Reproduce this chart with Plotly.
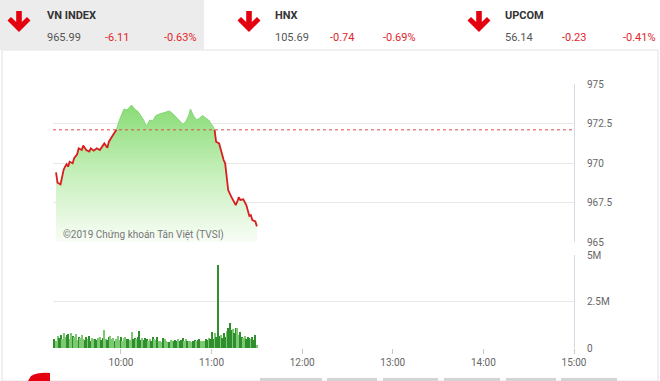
import numpy as np
import pandas as pd
import plotly.graph_objects as go

W, H = 660, 381
DAY = "2019-01-01 "

ref_value = 972.10
price_times = ["09:17", "09:18", "09:20", "09:21", "09:22", "09:23", "09:24", "09:25", "09:26", "09:28",
               "09:29", "09:31", "09:32", "09:34", "09:35", "09:37", "09:39", "09:40", "09:42", "09:44",
               "09:46", "09:48", "09:49", "09:51", "09:52", "09:54", "09:56", "09:57", "09:59", "10:02",
               "10:04", "10:07", "10:09", "10:11", "10:13", "10:15", "10:17", "10:19", "10:21", "10:23",
               "10:25", "10:27", "10:30", "10:32", "10:34", "10:36", "10:39", "10:41", "10:43", "10:45",
               "10:46", "10:48", "10:50", "10:52", "10:54", "10:57", "10:58", "11:01", "11:02", "11:03",
               "11:05", "11:06", "11:08", "11:09", "11:10", "11:11", "11:13", "11:14", "11:16", "11:17",
               "11:18", "11:19", "11:21", "11:23", "11:24", "11:25", "11:26", "11:27", "11:29", "11:30"]
price_values = [969.41, 968.75, 968.65, 969.13, 969.56, 969.77, 969.92, 969.77, 970.08, 969.98,
                970.30, 970.55, 970.93, 970.82, 971.10, 970.82, 970.72, 970.93, 970.78, 970.93,
                970.82, 971.10, 971.24, 970.96, 971.35, 971.66, 971.94, 972.10, 972.72, 973.42,
                973.35, 973.67, 973.42, 973.29, 973.04, 972.72, 972.30, 972.72, 972.66, 972.99,
                973.08, 973.15, 973.25, 973.29, 973.15, 972.93, 972.62, 972.45, 972.62, 973.04,
                973.42, 973.00, 972.72, 972.83, 973.00, 972.83, 972.72, 972.30, 972.10, 971.35,
                971.24, 970.82, 970.19, 969.98, 968.92, 968.29, 967.87, 967.66, 967.34, 967.55,
                967.83, 967.66, 967.70, 967.34, 967.03, 966.65, 966.70, 966.39, 966.30, 965.99]

volume_m = [0.45, 0.50, 0.38, 0.62, 0.55, 0.72, 0.48, 0.80, 0.60, 0.70,
            0.75, 0.50, 0.82, 0.66, 0.58, 0.74, 0.45, 0.60, 0.52, 0.68,
            0.50, 0.42, 0.58, 0.46, 0.62, 0.40, 0.55, 0.48, 0.50, 0.44,
            0.52, 0.60, 0.45, 0.55, 0.98, 0.50, 0.44, 0.58, 0.62, 0.48,
            0.55, 0.40, 0.50, 0.62, 0.45, 0.58, 0.38, 0.52, 0.60, 0.46,
            0.50, 0.42, 0.86, 0.48, 0.56, 0.50, 0.60, 0.90, 0.45, 0.52,
            0.42, 0.55, 0.48, 0.40, 0.50, 0.38, 0.60, 0.46, 0.42, 0.58,
            0.36, 0.40, 0.32, 0.55, 0.50, 0.38, 0.34, 0.30, 0.42, 0.35,
            0.38, 0.45, 0.40, 0.50, 0.36, 0.42, 0.52, 0.40, 0.46, 0.38,
            0.35, 0.40, 0.32, 0.38, 0.45, 0.35, 0.42, 0.50, 0.40, 0.38,
            0.40, 0.48, 0.45, 0.55, 0.50, 0.85, 0.50, 0.83, 0.60, 4.45,
            0.62, 0.70, 0.55, 0.78, 0.60, 0.90, 1.05, 1.32, 0.95, 1.00,
            0.80, 1.10, 1.05, 0.70, 0.85, 0.60, 0.55, 0.62, 0.50, 0.60,
            0.55, 0.48, 0.58, 0.45, 0.68, 0.18]
volume_start = "09:15"

x_tick_labels = ["10:00", "11:00", "12:00", "13:00", "14:00", "15:00"]
price_ticks = [965, 967.5, 970, 972.5, 975]
price_tick_text = ["965", "967.5", "970", "972.5", "975"]
vol_ticks = [0, 2.5e6, 5e6]
vol_tick_text = ["0", "2.5M", "5M"]

headers = [
    ("VN INDEX", "965.99", "-6.11", "-0.63%"),
    ("HNX", "105.69", "-0.74", "-0.69%"),
    ("UPCOM", "56.14", "-0.23", "-0.41%"),
]

def px(x):
    return x / W

def py(y):
    return 1 - y / H

pt = pd.to_datetime([DAY + t for t in price_times])
pv = np.array(price_values)
vt = pd.date_range(DAY + volume_start, periods=len(volume_m), freq="min")
vv = np.array(volume_m) * 1e6

red_vals = [v if v <= ref_value + 1e-9 else None for v in pv]
green_vals = [v if v >= ref_value - 1e-9 else None for v in pv]

pnum = pt.values.astype("int64")
vnum = vt.values.astype("int64")
idx = np.clip(np.searchsorted(pnum, vnum, side="right") - 1, 0, len(pv) - 1)
prev = np.clip(idx - 1, 0, len(pv) - 1)
bar_colors = ["#2f8f2f" if (k % 4 == 1 or (pv[idx[k]] < pv[prev[k]] and k % 2 == 0)) else "#7cc972"
              for k in range(len(vt))]

x_range = [DAY + "09:15", DAY + "15:00"]
tickvals = [DAY + t for t in x_tick_labels]

fig = go.Figure()
fig.add_trace(go.Scatter(x=pt, y=[965] * len(pt), mode="lines", line=dict(width=0),
                         hoverinfo="skip", showlegend=False, xaxis="x", yaxis="y"))
fig.add_trace(go.Scatter(x=pt, y=pv, mode="lines", line=dict(width=0), fill="tonexty",
                         fillgradient=dict(type="vertical", start=965, stop=974,
                                           colorscale=[[0, "#f8fdf6"], [0.5, "#c4efb8"], [1, "#84da70"]]),
                         hoverinfo="skip", showlegend=False, xaxis="x", yaxis="y"))
fig.add_trace(go.Scatter(x=pt, y=green_vals, mode="lines", line=dict(color="#86d676", width=1),
                         connectgaps=False, showlegend=False, xaxis="x", yaxis="y"))
fig.add_trace(go.Scatter(x=pt, y=red_vals, mode="lines", line=dict(color="#d81e1e", width=1.8),
                         connectgaps=False, showlegend=False, xaxis="x", yaxis="y"))
fig.add_trace(go.Bar(x=vt, y=vv, marker=dict(color=bar_colors, line=dict(width=0)),
                     width=42000, showlegend=False, xaxis="x2", yaxis="y2"))

grid = "#e8e8e8"
border = "#d3dae2"
tickfont = dict(family="Roboto", size=10, color="#666")

fig.update_layout(
    width=W, height=H, margin=dict(l=0, r=0, t=0, b=0, autoexpand=False),
    paper_bgcolor="white", plot_bgcolor="rgba(0,0,0,0)",
    bargap=0,
    xaxis=dict(domain=[px(53), px(574)], range=x_range, type="date", showticklabels=False,
               showgrid=False, zeroline=False, anchor="y", automargin=False),
    yaxis=dict(domain=[py(242), py(84)], range=[965, 975], side="right", tickvals=price_ticks,
               ticktext=price_tick_text, showgrid=True, gridcolor=grid, gridwidth=1,
               showline=True, linecolor=border, linewidth=1, zeroline=False,
               ticks="", ticklabelstandoff=10, tickfont=tickfont, anchor="x", automargin=False),
    xaxis2=dict(domain=[px(53), px(574)], range=x_range, type="date", tickvals=tickvals,
                ticktext=x_tick_labels, ticks="outside", ticklen=5, tickcolor="#c8c8c8",
                showgrid=False, zeroline=False, showline=False, tickfont=tickfont, anchor="y2",
                automargin=False),
    yaxis2=dict(domain=[py(348), py(255)], range=[0, 5e6], side="right", tickvals=vol_ticks,
                ticktext=vol_tick_text, showgrid=True, gridcolor=grid, gridwidth=1,
                showline=True, linecolor=border, linewidth=1, zeroline=False,
                ticks="", ticklabelstandoff=10, tickfont=tickfont, anchor="x2", automargin=False),
)

shapes = []
annotations = []
shapes.append(dict(type="rect", xref="paper", yref="paper", x0=px(2), x1=px(658), y0=0, y1=py(50),
                   line=dict(color="#e2e2e2", width=1), fillcolor="rgba(0,0,0,0)", layer="below"))
shapes.append(dict(type="rect", xref="paper", yref="paper", x0=0, x1=px(204), y0=py(50), y1=1,
                   line=dict(width=0), fillcolor="#ececec", layer="below"))
shapes.append(dict(type="line", xref="x", yref="y", x0=x_range[0], x1=x_range[1], y0=ref_value, y1=ref_value,
                   line=dict(color="#e04a4a", width=1, dash="dot")))

def arrow(cx, top):
    pts = [(cx - 2.8, 0), (cx + 2.8, 0), (cx + 2.8, 11), (cx + 8, 6), (cx + 11.5, 9.5),
           (cx, 21), (cx - 11.5, 9.5), (cx - 8, 6), (cx - 2.8, 11)]
    d = "M " + " L ".join(f"{px(x):.5f},{py(top + y):.5f}" for x, y in pts) + " Z"
    return dict(type="path", xref="paper", yref="paper", path=d, fillcolor="#e3000f",
                line=dict(width=0))

header_x = [(19, 45, 103, 162), (249, 273, 328, 381), (479, 503, 560, 621)]
for (name, val, chg, pct), (ax, nx, cx, pcx) in zip(headers, header_x):
    shapes.append(arrow(ax, 11))
    annotations.append(dict(text=f"<b>{name}</b>", x=px(nx), y=py(15), xref="paper", yref="paper",
                            xanchor="left", yanchor="middle", showarrow=False,
                            font=dict(family="Roboto", size=11, color="#333")))
    annotations.append(dict(text=val, x=px(nx), y=py(37), xref="paper", yref="paper",
                            xanchor="left", yanchor="middle", showarrow=False,
                            font=dict(family="Roboto", size=11, color="#555")))
    annotations.append(dict(text=chg, x=px(cx), y=py(37), xref="paper", yref="paper",
                            xanchor="left", yanchor="middle", showarrow=False,
                            font=dict(family="Roboto", size=11, color="#e0262b")))
    annotations.append(dict(text=pct, x=px(pcx), y=py(37), xref="paper", yref="paper",
                            xanchor="left", yanchor="middle", showarrow=False,
                            font=dict(family="Roboto", size=11, color="#e0262b")))

annotations.append(dict(text="©2019 Chứng khoán Tân Việt (TVSI)", x=px(61), y=py(235), xref="paper",
                        yref="paper", xanchor="left", yanchor="middle", showarrow=False,
                        font=dict(family="Roboto", size=10, color="#777")))

shapes.append(dict(type="path", xref="paper", yref="paper",
                   path=f"M {px(28)},{py(381)} L {px(31)},{py(376)} Q {px(38)},{py(372)} {px(50)},{py(373)} L {px(50)},{py(381)} Z",
                   fillcolor="#e3000f", line=dict(width=0)))
for x0, x1 in [(260, 322), (327, 377), (383, 438), (444, 500), (506, 556), (561, 617)]:
    shapes.append(dict(type="rect", xref="paper", yref="paper", x0=px(x0), x1=px(x1), y0=0, y1=py(378),
                       fillcolor="#d4d4d4", line=dict(width=0)))

fig.update_layout(shapes=shapes, annotations=annotations)
fig.write_html("out.html")
